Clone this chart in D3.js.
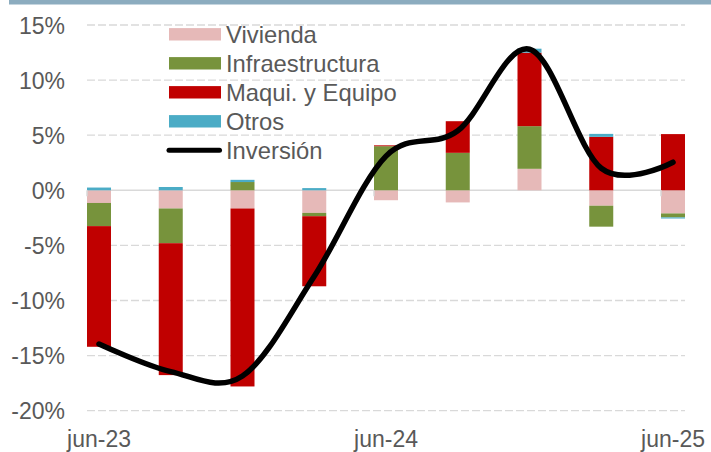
<!DOCTYPE html>
<html>
<head>
<meta charset="utf-8">
<script src="https://cdn.jsdelivr.net/npm/d3@7"></script>
<style>
  html, body { margin: 0; padding: 0; background: #fff; }
  svg { display: block; font-family: Arial, "Liberation Sans", sans-serif; }
</style>
</head>
<body>
<svg id="chart" width="711" height="452"></svg>
<script>
// Quarterly contributions to investment growth (percentage points)
const categories = ['jun-23', 'sep-23', 'dic-23', 'mar-24', 'jun-24', 'sep-24', 'dic-24', 'mar-25', 'jun-25'];
const vivienda        = [-1.15, -1.65, -1.65, -2.05, -0.9, -1.1, 1.95, -1.4, -2.1];
const infraestructura = [-2.1, -3.15, 0.75, -0.3, 4.0, 3.4, 3.87, -1.9, -0.36];
const maquinaria      = [-10.95, -11.97, -16.15, -6.36, 0.08, 2.87, 6.67, 4.85, 5.1];
const otros           = [0.25, 0.3, 0.2, 0.2, 0, 0, 0.36, 0.27, -0.1];
// Total investment growth (%)
const inversion       = [-13.95, -16.45, -16.85, -7.8, 3.1, 5.4, 12.8, 2.0, 2.55];

const yTicks = [15, 10, 5, 0, -5, -10, -15, -20];
const xLabels = ['jun-23', 'jun-24', 'jun-25'];

const seriesKeys = ['Vivienda', 'Infraestructura', 'Maqui. y Equipo', 'Otros'];
const seriesValues = [vivienda, infraestructura, maquinaria, otros];
const colors = ['#e6b9b8', '#77933c', '#c00000', '#4bacc6'];
const textColor = '#595959';
const gridColor = '#d9d9d9';

const svg = d3.select('#chart');

// header band
svg.append('rect')
  .attr('x', 9).attr('y', 0).attr('width', 702).attr('height', 4.5)
  .attr('fill', '#8cacbf');

const plotLeft = 87, plotRight = 685;
const barW = 24;

const x = d3.scaleLinear().domain([0, categories.length - 1])
  .range([plotLeft + barW / 2, plotRight - barW / 2]);
const y = d3.scaleLinear().domain([-20, 15]).range([410.7, 25]);

// rows for the stack
const rows = categories.map((c, i) => {
  const r = { cat: c, i };
  seriesKeys.forEach((k, j) => { r[k] = seriesValues[j][i]; });
  return r;
});
const stacked = d3.stack().keys(seriesKeys).offset(d3.stackOffsetDiverging)(rows);

// gridlines
svg.append('g').selectAll('line')
  .data(yTicks.filter(t => t !== 0))
  .join('line')
  .attr('x1', plotLeft).attr('x2', plotRight)
  .attr('y1', d => y(d)).attr('y2', d => y(d))
  .attr('stroke', gridColor).attr('stroke-width', 1.3)
  .attr('stroke-dasharray', '8,3');

// y axis labels
const yAxis = d3.axisLeft(y).tickValues(yTicks).tickSize(0).tickPadding(0)
  .tickFormat(d => d + '%');
const gy = svg.append('g').attr('transform', 'translate(65,0)').call(yAxis);
gy.select('.domain').remove();
gy.selectAll('text')
  .attr('fill', textColor).attr('font-size', 23)
  .attr('font-family', 'Arial, "Liberation Sans", sans-serif')
  .attr('dy', '0.35em');

// zero line
svg.append('line')
  .attr('x1', plotLeft).attr('x2', plotRight)
  .attr('y1', y(0)).attr('y2', y(0))
  .attr('stroke', gridColor).attr('stroke-width', 1.5);

// bars
svg.append('g').selectAll('g')
  .data(stacked)
  .join('g')
  .attr('fill', (d, j) => colors[j])
  .selectAll('rect')
  .data(d => d)
  .join('rect')
  .attr('x', d => x(d.data.i) - barW / 2)
  .attr('width', barW)
  .attr('y', d => y(Math.max(d[0], d[1])))
  .attr('height', d => Math.abs(y(d[0]) - y(d[1])));

// axis tick marks
svg.append('g').selectAll('line')
  .data(xLabels.map(l => categories.indexOf(l)))
  .join('line')
  .attr('x1', d => x(d) - barW / 2).attr('x2', d => x(d) - barW / 2)
  .attr('y1', y(0)).attr('y2', y(0) + 6)
  .attr('stroke', gridColor).attr('stroke-width', 1.5);

// x labels
svg.append('g').selectAll('text')
  .data(xLabels)
  .join('text')
  .attr('x', d => x(categories.indexOf(d)))
  .attr('y', 446.5)
  .attr('text-anchor', 'middle')
  .attr('fill', textColor).attr('font-size', 23)
  .text(d => d);

// investment line
const line = d3.line()
  .x((d, i) => x(i))
  .y(d => y(d))
  .curve(d3.curveCatmullRom.alpha(0));
svg.append('path')
  .datum(inversion)
  .attr('d', line)
  .attr('fill', 'none')
  .attr('stroke', '#000')
  .attr('stroke-width', 5.5)
  .attr('stroke-linecap', 'round')
  .attr('stroke-linejoin', 'round');

// legend
const legendItems = seriesKeys.map((k, j) => ({ label: k, color: colors[j], type: 'bar' }))
  .concat([{ label: 'Inversión', color: '#000', type: 'line' }]);
const legend = svg.append('g');
legendItems.forEach((d, i) => {
  const cy = 34.3 + i * 29;
  if (d.type === 'bar') {
    legend.append('rect')
      .attr('x', 169).attr('y', cy - 6.2).attr('width', 52).attr('height', 12.4)
      .attr('fill', d.color);
  } else {
    legend.append('line')
      .attr('x1', 169).attr('x2', 219.5).attr('y1', cy).attr('y2', cy)
      .attr('stroke', d.color).attr('stroke-width', 5)
      .attr('stroke-linecap', 'round');
  }
  legend.append('text')
    .attr('x', 226).attr('y', cy).attr('dy', '0.35em')
    .attr('fill', textColor).attr('font-size', 23.8)
    .text(d.label);
});
</script>
</body>
</html>
